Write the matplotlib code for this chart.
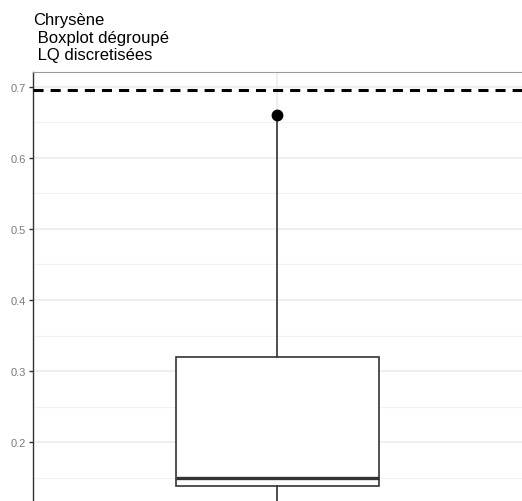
"""Boxplot dégroupé du chrysène, LQ discrétisées."""
import matplotlib.pyplot as plt

plt.rcParams['font.family'] = ['Liberation Sans', 'DejaVu Sans']

# Statistiques
categorie = ["Chrysène"]
q1 = [0.138]
mediane = [0.15]
q3 = [0.32]
moustache_basse = [0.02]
moustache_haute = [0.66]
points_extremes = [0.66]
seuil_lq = 0.695

y_ticks = [0.2, 0.3, 0.4, 0.5, 0.6, 0.7]
y_minor = [0.15, 0.25, 0.35, 0.45, 0.55, 0.65]
titre = ["Chrysène", " Boxplot dégroupé", " LQ discretisées"]

fig = plt.figure(figsize=(5.22, 5.02), dpi=100)
fig.patch.set_facecolor('white')
ax = fig.add_axes([33 / 522, 0.0, 1 - 33 / 522, 1 - 73 / 502])

stats = [{
    'label': categorie[0], 'q1': q1[0], 'med': mediane[0], 'q3': q3[0],
    'whislo': moustache_basse[0], 'whishi': moustache_haute[0], 'fliers': [],
}]
ax.bxp(stats, positions=[1], widths=0.5, showcaps=False, patch_artist=True,
       boxprops=dict(facecolor='white', edgecolor='#333333', linewidth=1.2),
       whiskerprops=dict(color='#333333', linewidth=1.2),
       medianprops=dict(color='#333333', linewidth=2.4),
       zorder=3)
ax.plot([1] * len(points_extremes), points_extremes, 'o', color='black',
        markersize=7.5, zorder=4)

ax.axhline(seuil_lq, color='black', linewidth=2.2, dashes=(3.3, 2.3), zorder=5)

ax.set_xlim(0.4, 1.6)
ax.set_ylim(0.117, 0.721)
ax.set_yticks(y_ticks)
ax.set_yticks(y_minor, minor=True)
ax.set_yticklabels([f"{v:.1f}" for v in y_ticks])
ax.set_xticks([1])
ax.set_xticklabels([])

ax.grid(True, which='major', color='#EBEBEB', linewidth=1.1, zorder=0)
ax.grid(True, which='minor', axis='y', color='#F2F2F2', linewidth=0.8, zorder=0)
ax.set_axisbelow(True)

ax.tick_params(axis='y', which='major', length=3, width=1, color='#333333',
               labelsize=8, labelcolor='#7A7A7A', pad=2)
ax.tick_params(axis='y', which='minor', length=0)
ax.tick_params(axis='x', length=0)

for s in ['right', 'bottom']:
    ax.spines[s].set_visible(False)
ax.spines['left'].set_color('#333333')
ax.spines['left'].set_linewidth(1.0)
ax.spines['top'].set_color('#9A9A9A')
ax.spines['top'].set_linewidth(0.8)

# Titre sur trois lignes, lignes de base placées à la main
for i, ligne in enumerate(titre):
    fig.text(33 / 522, 1 - (25 + 17.5 * i) / 502, ligne, fontsize=12,
             va='baseline', ha='left', color='black')

fig.savefig('out.png', dpi=100, facecolor='white')
